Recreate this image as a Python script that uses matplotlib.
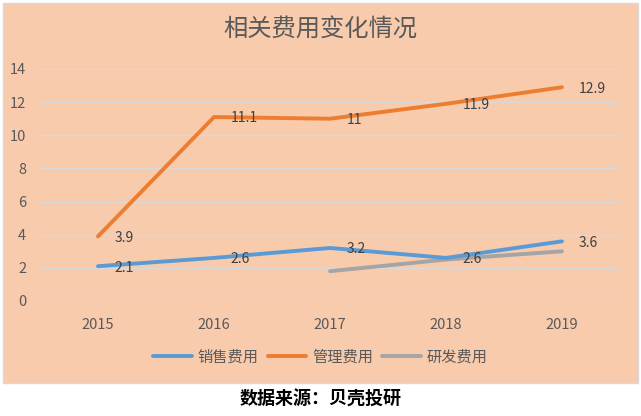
import matplotlib.pyplot as plt
from matplotlib.patches import Rectangle

plt.rcParams['font.family'] = ['Noto Sans CJK SC', 'DejaVu Sans']

years = ['2015', '2016', '2017', '2018', '2019']
sales = [2.1, 2.6, 3.2, 2.6, 3.6]
admin = [3.9, 11.1, 11.0, 11.9, 12.9]
rnd_years = ['2017', '2018', '2019']
rnd = [1.8, 2.5, 3.0]
sales_labels = ['2.1', '2.6', '3.2', '2.6', '3.6']
admin_labels = ['3.9', '11.1', '11', '11.9', '12.9']

fig = plt.figure(figsize=(6.41, 4.16), dpi=100)
fig.patch.set_facecolor('white')
# orange chart panel
fig.patches.append(Rectangle((3 / 641, 1 - 383 / 416), 635 / 641, 380 / 416,
                             transform=fig.transFigure, facecolor='#F8CBAD',
                             edgecolor='#D9D9D9', linewidth=1, zorder=-1))

ax = fig.add_axes([40 / 641, 115 / 416, 580 / 641, 232 / 416])
ax.set_zorder(1)
ax.set_facecolor('none')

x = list(range(len(years)))
xr = [years.index(y) for y in rnd_years]
ax.plot(x, sales, color='#5B9BD5', lw=2.8, solid_capstyle='round', label='销售费用', zorder=3)
ax.plot(x, admin, color='#ED7D31', lw=2.8, solid_capstyle='round', label='管理费用', zorder=3)
ax.plot(xr, rnd, color='#A5A5A5', lw=2.8, solid_capstyle='round', label='研发费用', zorder=2)

for xi, v, t in zip(x, sales, sales_labels):
    ax.annotate(t, (xi, v), xytext=(12, -1), textcoords='offset points',
                ha='left', va='center', fontsize=10, color='#404040')
for xi, v, t in zip(x, admin, admin_labels):
    ax.annotate(t, (xi, v), xytext=(12, -1), textcoords='offset points',
                ha='left', va='center', fontsize=10, color='#404040')

ax.set_xlim(-0.5, 4.5)
ax.set_ylim(0, 14)
ax.set_yticks(range(0, 15, 2))
ax.set_xticks(x)
ax.set_xticklabels(years)
ax.yaxis.grid(True, color='#D9D9D9', lw=1)
ax.set_axisbelow(True)
for s in ax.spines.values():
    s.set_visible(False)
ax.tick_params(length=0, labelsize=10.5, colors='#595959')
ax.tick_params(axis='x', pad=12)
ax.tick_params(axis='y', pad=10)

fig.text(0.5, 1 - 30 / 416, '相关费用变化情况', ha='center', va='center',
         fontsize=17.5, color='#595959')
fig.legend(loc='center', bbox_to_anchor=(0.5, 1 - 357 / 416), ncol=3, frameon=False,
           fontsize=11, labelcolor='#595959', handlelength=2.5, columnspacing=0.6,
           handletextpad=0.4)
fig.text(0.5, 1 - 399 / 416, '数据来源：贝壳投研', ha='center', va='center',
         fontsize=13, fontweight='bold', color='black')

fig.savefig('out.png', dpi=100)
